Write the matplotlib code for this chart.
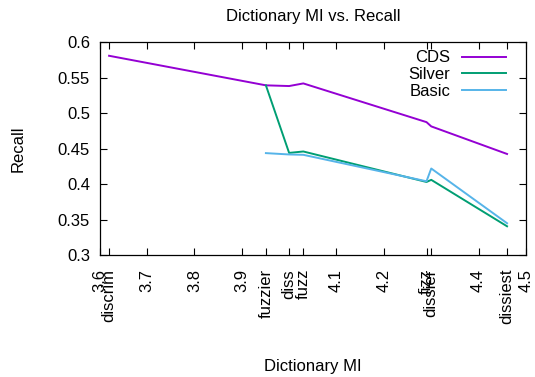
import matplotlib
matplotlib.use("Agg")
import matplotlib.pyplot as plt

plt.rcParams['font.family'] = ['Liberation Sans', 'DejaVu Sans']

words = ["discrim", "fuzzier", "diss", "fuzz", "fizz", "dissier", "dissiest"]
word_mi = [3.62, 3.951, 4.0, 4.03, 4.29, 4.30, 4.46]

cds_x = [3.62, 3.951, 4.0, 4.03, 4.29, 4.30, 4.46]
cds_y = [0.581, 0.5393, 0.5383, 0.542, 0.4874, 0.4814, 0.4425]

silver_x = [3.951, 4.0, 4.03, 4.29, 4.30, 4.46]
silver_y = [0.5393, 0.444, 0.446, 0.403, 0.406, 0.3405]

basic_x = [3.951, 4.0, 4.03, 4.29, 4.30, 4.46]
basic_y = [0.4437, 0.4418, 0.4413, 0.404, 0.422, 0.3448]

num_ticks = [3.6, 3.7, 3.8, 3.9, 4.1, 4.2, 4.4, 4.5]
num_labels = ["3.6", "3.7", "3.8", "3.9", "4.1", "4.2", "4.4", "4.5"]
y_ticks = [0.3, 0.35, 0.4, 0.45, 0.5, 0.55, 0.6]
y_labels = ["0.3", "0.35", "0.4", "0.45", "0.5", "0.55", "0.6"]

FS = 12
fig = plt.figure(figsize=(5.35, 3.77), dpi=100)
ax = fig.add_axes([99.6 / 535, 1 - 255 / 377, (526 - 99.6) / 535, (255 - 42.3) / 377])

ax.plot(cds_x, cds_y, color="#9400d3", lw=1.4, label="CDS")
ax.plot(silver_x, silver_y, color="#009e73", lw=1.4, label="Silver")
ax.plot(basic_x, basic_y, color="#56b4e9", lw=1.4, label="Basic")

ax.set_xlim(3.6, 4.5)
ax.set_ylim(0.3, 0.6)

ax.set_xticks(num_ticks + word_mi)
ax.set_xticklabels(num_labels + words, rotation=90, fontsize=FS)
ax.set_yticks(y_ticks)
ax.set_yticklabels(y_labels, fontsize=FS)
ax.tick_params(direction="in", length=5, width=0.8, top=True, right=True)
ax.tick_params(axis="x", pad=10)
ax.tick_params(axis="y", pad=7)
for s in ax.spines.values():
    s.set_linewidth(0.9)

ax.set_title("Dictionary MI vs. Recall", fontsize=FS, pad=15)
ax.set_ylabel("Recall", fontsize=FS, labelpad=23)
ax.set_xlabel("Dictionary MI", fontsize=FS, labelpad=25)

leg = ax.legend(loc="upper right", frameon=False, markerfirst=False, fontsize=FS,
                handlelength=2.65, handletextpad=0.7, labelspacing=0.1,
                borderaxespad=0.0, borderpad=0.0, bbox_to_anchor=(0.953, 0.962))

fig.savefig("out.png", dpi=100)
